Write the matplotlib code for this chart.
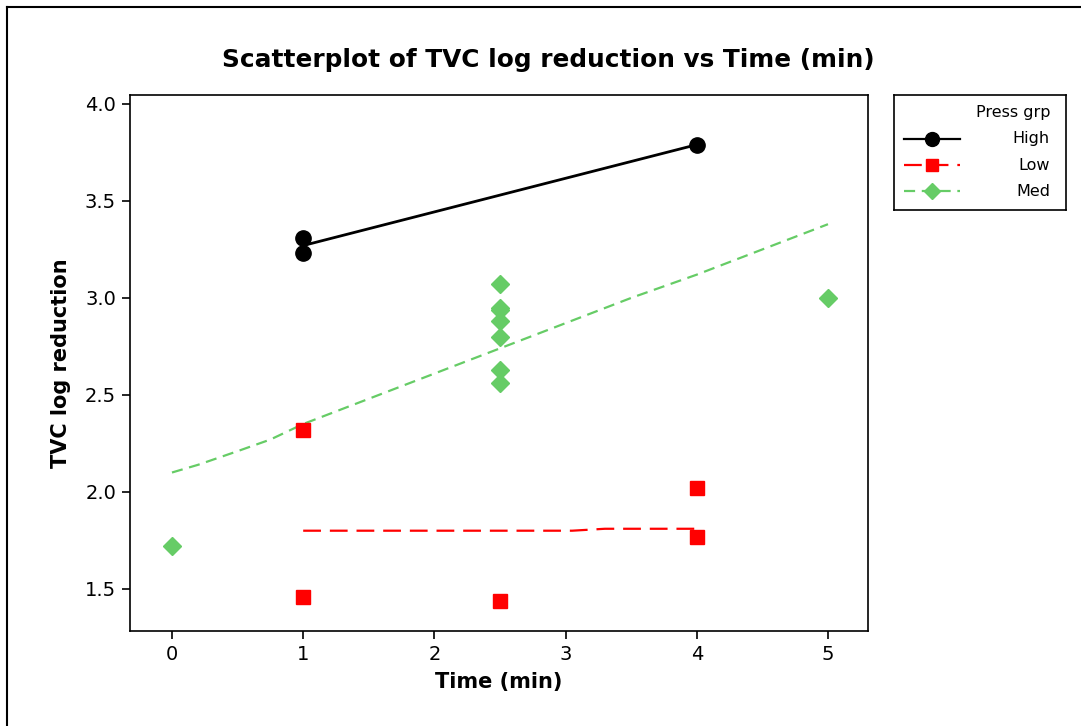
import numpy as np
import matplotlib
matplotlib.use('Agg')
import matplotlib.pyplot as plt
from matplotlib.lines import Line2D

# data
high_t = [1, 1, 4]
high_y = [3.31, 3.23, 3.79]
high_fit_t = [1, 4]
high_fit_y = [3.27, 3.79]

low_t = [1, 1, 2.5, 4, 4]
low_y = [2.32, 1.46, 1.44, 2.02, 1.77]
low_fit_t = [1, 3.05, 3.3, 4]
low_fit_y = [1.80, 1.80, 1.81, 1.81]

med_t = [0, 2.5, 2.5, 2.5, 2.5, 2.5, 2.5, 2.5, 5]
med_y = [1.72, 3.07, 2.95, 2.94, 2.88, 2.80, 2.63, 2.56, 3.00]
med_fit_t = [0, 0.2, 0.5, 0.75, 1, 1.5, 2, 2.5, 3, 3.5, 4, 4.5, 5]
med_fit_y = [2.10, 2.14, 2.21, 2.27, 2.35, 2.48, 2.61, 2.74, 2.87, 3.00, 3.12, 3.25, 3.38]

groups = ['High', 'Low', 'Med']
colors = {'High': 'black', 'Low': '#ff0000', 'Med': '#66cc66'}
markers = {'High': 'o', 'Low': 's', 'Med': 'D'}
msizes = {'High': 11, 'Low': 10, 'Med': 9}
styles = {'High': '-', 'Low': (0, (8, 4)), 'Med': (0, (5, 3))}

xticks = [0, 1, 2, 3, 4, 5]
yticks = [1.5, 2.0, 2.5, 3.0, 3.5, 4.0]

W, H = 1081, 726
fig = plt.figure(figsize=(W / 100, H / 100), dpi=100)
ax = fig.add_axes([130 / W, 1 - 631 / H, 738 / W, 536 / H])

# fitted lines
ax.plot(high_fit_t, high_fit_y, color=colors['High'], lw=2, ls=styles['High'])
ax.plot(low_fit_t, low_fit_y, color=colors['Low'], lw=1.6, ls=styles['Low'])
ax.plot(med_fit_t, med_fit_y, color=colors['Med'], lw=1.6, ls=styles['Med'])

# points
ax.plot(high_t, high_y, ls='none', marker=markers['High'], ms=msizes['High'], color=colors['High'])
ax.plot(low_t, low_y, ls='none', marker=markers['Low'], ms=msizes['Low'], color=colors['Low'])
ax.plot(med_t, med_y, ls='none', marker=markers['Med'], ms=msizes['Med'], color=colors['Med'])

ax.set_xlim(-0.32, 5.305)
ax.set_ylim(1.283, 4.046)
ax.set_xticks(xticks)
ax.set_yticks(yticks)
ax.set_yticklabels([f'{v:.1f}' for v in yticks])
ax.tick_params(direction='out', length=6, width=1.2, labelsize=14, pad=4)
for s in ax.spines.values():
    s.set_linewidth(1.2)

ax.set_xlabel('Time (min)', fontsize=15, fontweight='bold', labelpad=6)
ax.set_ylabel('TVC log reduction', fontsize=15, fontweight='bold', labelpad=10)
fig.text(548 / W, 1 - 60 / H, 'Scatterplot of TVC log reduction vs Time (min)',
         ha='center', va='center', fontsize=17.8, fontweight='bold')

# legend drawn in its own box
lax = fig.add_axes([894 / W, 1 - 210 / H, 172 / W, 115 / H])
lax.set_xlim(0, 172)
lax.set_ylim(115, 0)
lax.set_xticks([])
lax.set_yticks([])
for s in lax.spines.values():
    s.set_linewidth(1.2)
lax.text(156, 18, 'Press grp', ha='right', va='center', fontsize=11.5)
for i, g in enumerate(groups):
    yy = 44 + i * 26
    lax.add_line(Line2D([10, 66], [yy, yy], color=colors[g], lw=1.6, ls=styles[g]))
    lax.plot([38], [yy], marker=markers[g], ms=msizes[g] - 1, color=colors[g])
    lax.text(156, yy, g, ha='right', va='center', fontsize=11.5)

# outer frame (top and left edges visible)
fig.add_artist(Line2D([7.5 / W, 1], [1 - 6.5 / H, 1 - 6.5 / H], color='black', lw=1.5))
fig.add_artist(Line2D([7.5 / W, 7.5 / W], [0, 1 - 6.5 / H], color='black', lw=1.5))

fig.savefig('out.png', dpi=100)
